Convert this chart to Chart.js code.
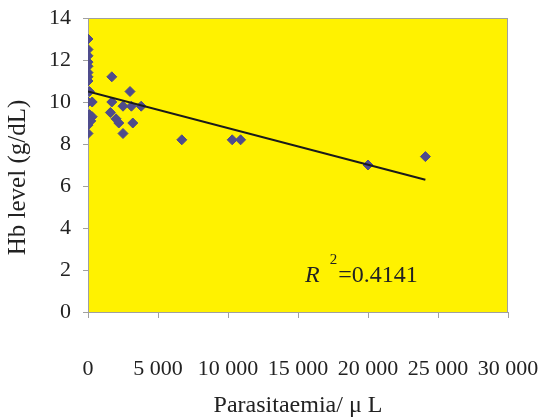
<!DOCTYPE html>
<html>
<head>
<meta charset="utf-8">
<script src="https://cdn.jsdelivr.net/npm/chart.js@4/dist/chart.umd.min.js"></script>
<style>
  html, body { margin: 0; padding: 0; background: #fff; }
  #wrap { width: 550px; height: 420px; }
</style>
</head>
<body>
<div id="wrap"><canvas id="myChart"></canvas></div>
<script>
// datos
const parasitos = [0, 0, 0, 0, 0, 0, 0, 0, 100, 0, 300, 100, 300, 200, 0, 0,
  1700, 1700, 1600, 2500, 3000, 3100, 3800, 2000, 2200, 3200, 2500,
  6700, 10300, 10900, 20000, 24100]
const hb = [13, 12.5, 12.2, 11.9, 11.7, 11.4, 11.2, 11.0, 10.5, 10.0, 10.0, 9.4, 9.3, 9.1, 8.9, 8.5,
  11.2, 10.0, 9.5, 9.8, 10.5, 9.8, 9.8, 9.2, 9.0, 9.0, 8.5,
  8.2, 8.2, 8.2, 7.0, 7.4]
// linea de tendencia (extremos)
const tendX = [0, 24100]
const tendY = [10.5, 6.3]
const xTicks = [0, 5000, 10000, 15000, 20000, 25000, 30000]
const yTicks = [0, 2, 4, 6, 8, 10, 12, 14]
const r2Texto = '=0.4141'

const fuente = "'Liberation Serif', 'Times New Roman', serif"

//se arman los puntos a partir de los arrays
const puntos = parasitos.map(function (v, i) {
    return { x: v, y: hb[i] };
});
const tendencia = tendX.map(function (v, i) {
    return { x: v, y: tendY[i] };
});

//fondo amarillo y marco del area del grafico
const fondo = {
    id: 'fondo',
    beforeDatasetsDraw(chart) {
        const { ctx, chartArea: a } = chart
        ctx.save()
        ctx.fillStyle = '#FFF200'
        ctx.fillRect(a.left, a.top, a.right - a.left, a.bottom - a.top)
        ctx.strokeStyle = '#a0a0a0'
        ctx.lineWidth = 1
        ctx.strokeRect(a.left + 0.5, a.top + 0.5, a.right - a.left - 1, a.bottom - a.top)
        ctx.restore()
    }
}

//texto del R cuadrado
const r2 = {
    id: 'r2',
    afterDatasetsDraw(chart) {
        const { ctx, scales } = chart
        const x = scales.x.getPixelForValue(15500)
        const y = scales.y.getPixelForValue(1.45)
        ctx.save()
        ctx.fillStyle = '#222'
        ctx.textBaseline = 'alphabetic'
        ctx.font = "italic 24px " + fuente
        ctx.fillText('R', x, y)
        let w = ctx.measureText('R').width
        ctx.font = "15px " + fuente
        ctx.fillText('2', x + w + 10, y - 18)
        let w2 = ctx.measureText('2').width
        ctx.font = "24px " + fuente
        ctx.fillText(r2Texto, x + w + 10 + w2 + 1, y)
        ctx.restore()
    }
}

const canvas = document.querySelector('#myChart');
const ctx = canvas.getContext('2d');

let chart = new Chart(ctx, {
    type: 'scatter',
    data: {
        datasets: [{
            label: 'Hb',
            data: puntos,
            backgroundColor: '#4F4C8C',
            borderColor: '#4F4C8C',
            pointStyle: 'rectRot',
            pointRadius: 5,
            pointHoverRadius: 5,
            order: 2
        },
        {
            label: 'Tendencia',
            type: 'line',
            data: tendencia,
            borderColor: '#1a1a1a',
            borderWidth: 2,
            pointRadius: 0,
            fill: false,
            order: 1
        }]
    },
    options: {
        responsive: true,
        maintainAspectRatio: false,
        animation: false,
        layout: { padding: { top: 18, right: 42, left: 0, bottom: 0 } },
        plugins: {
            legend: { display: false },
            tooltip: { enabled: false }
        },
        scales: {
            x: {
                type: 'linear',
                min: 0,
                max: 30000,
                afterBuildTicks: function (s) { s.ticks = xTicks.map(v => ({ value: v })) },
                afterFit: function (s) {
                    s.height = 108
                    s.paddingLeft = 0
                    s.paddingRight = 0
                },
                ticks: {
                    color: '#222',
                    padding: 38,
                    maxRotation: 0,
                    font: { family: fuente, size: 22 },
                    callback: v => String(v).replace(/\B(?=(\d{3})+(?!\d))/g, ' ')
                },
                grid: { drawOnChartArea: false, tickLength: 6, color: '#a0a0a0' },
                border: { color: '#a0a0a0' },
                title: {
                    display: true,
                    text: 'Parasitaemia/ μ L',
                    color: '#222',
                    font: { family: fuente, size: 24 },
                    padding: { top: 0, bottom: 0 }
                }
            },
            y: {
                min: 0,
                max: 14,
                afterBuildTicks: function (s) { s.ticks = yTicks.map(v => ({ value: v })) },
                afterFit: function (s) {
                    s.width = 88
                    s.paddingTop = 0
                    s.paddingBottom = 0
                },
                ticks: {
                    color: '#222',
                    padding: 12,
                    font: { family: fuente, size: 22 }
                },
                grid: { drawOnChartArea: false, tickLength: 5, color: '#a0a0a0' },
                border: { color: '#a0a0a0' },
                title: {
                    display: true,
                    text: 'Hb level (g/dL)    ',
                    color: '#222',
                    font: { family: fuente, size: 25 },
                    padding: { top: 3, bottom: 0 }
                }
            }
        }
    },
    plugins: [fondo, r2]
});
</script>
</body>
</html>
